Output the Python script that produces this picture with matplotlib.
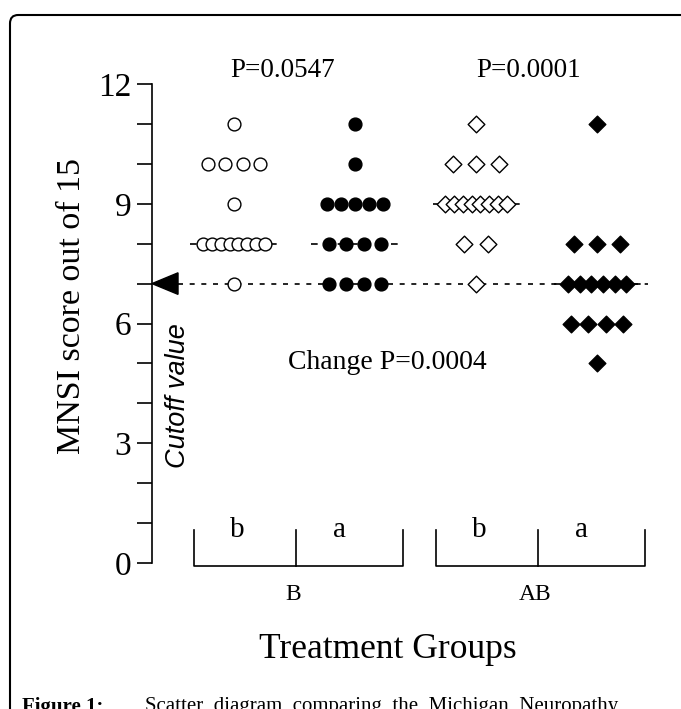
import numpy as np
import matplotlib
matplotlib.use("Agg")
import matplotlib.pyplot as plt
from matplotlib.patches import FancyBboxPatch

plt.rcParams['font.family'] = ['Liberation Serif', 'DejaVu Serif']

# MNSI scores (out of 15) per group, before (b) and after (a) treatment
groups = ["B", "AB"]
phases = ["b", "a"]
b_before = [11, 10, 10, 10, 10, 9, 8, 8, 8, 8, 8, 8, 8, 8, 7]
b_after = [11, 10, 9, 9, 9, 9, 9, 8, 8, 8, 8, 7, 7, 7, 7]
ab_before = [11, 10, 10, 10, 9, 9, 9, 9, 9, 9, 9, 9, 8, 8, 7]
ab_after = [11, 8, 8, 8, 7, 7, 7, 7, 7, 7, 6, 6, 6, 6, 5]
p_values = ["P=0.0547", "P=0.0001"]
change_text = "Change P=0.0004"
cutoff = 7
yticks = [0, 3, 6, 9, 12]

series = [b_before, b_after, ab_before, ab_after]
markers = ["o", "o", "D", "D"]
fills = ["white", "black", "white", "black"]
sizes = [85, 85, 72, 72]
positions = [1, 2, 3, 4]

fig = plt.figure(figsize=(6.81, 7.09), dpi=100)
ax = fig.add_axes([152 / 681, (709 - 563) / 709, (660 - 152) / 681, (563 - 84) / 709])

for pos, vals, m, fc, s in zip(positions, series, markers, fills, sizes):
    vals = np.array(vals)
    xs, ys = [], []
    for v in np.unique(vals):
        n = np.sum(vals == v)
        step = min(0.2, 0.58 / n)
        offs = (np.arange(n) - (n - 1) / 2) * step
        xs.extend(pos + offs)
        ys.extend([v] * n)
    med = np.median(vals)
    ax.plot([pos - 0.36, pos + 0.36], [med, med], color="black", lw=1.2,
            ls=(0, (4, 4)), zorder=2)
    ax.scatter(xs, ys, marker=m, s=s, facecolor=fc,
               edgecolor="black", linewidth=1.0, zorder=3)

# cutoff line and arrow
ax.plot([0.54, 4.42], [cutoff, cutoff], color="black", lw=1.2,
        ls=(0, (3, 4)), zorder=1)
ax.fill([0.322, 0.537, 0.537], [cutoff, cutoff + 0.27, cutoff - 0.27],
        color="black", clip_on=False, zorder=4)
ax.text(0.537, 4.2, "Cutoff value", rotation=90, ha="center", va="center",
        family="Liberation Sans", style="italic", fontsize=19.5)

# p-values
ax.text(1.4, 12.35, p_values[0], ha="center", va="center", fontsize=19.5)
ax.text(3.43, 12.35, p_values[1], ha="center", va="center", fontsize=19.5)
ax.text(2.27, 5.02, change_text, ha="center", va="center", fontsize=20)

# group brackets
for gi, g in enumerate(groups):
    pb, pa = positions[2 * gi], positions[2 * gi + 1]
    left, right = pb - 0.33, pa + 0.40
    mid = (pb + pa) / 2 + 0.01
    ybot, ytop = -0.07, 0.83
    ax.plot([left, left, right, right], [ytop, ybot, ybot, ytop],
            color="black", lw=1.2, clip_on=False)
    ax.plot([mid, mid], [ybot, ytop], color="black", lw=1.2, clip_on=False)
    ax.text((left + mid) / 2 - 0.06, 0.82, phases[0], ha="center", va="center", fontsize=21)
    ax.text((mid + right) / 2 - 0.08, 0.82, phases[1], ha="center", va="center", fontsize=21)
    ax.text(mid - 0.02, -0.78, g, ha="center", va="center", fontsize=17)

ax.set_xlim(0.322, 4.52)
ax.set_ylim(0, 12)
ax.set_yticks(yticks)
ax.set_yticks(range(0, 13), minor=True)
ax.tick_params(axis="y", which="both", direction="out", length=11, width=1.2,
               labelsize=24, pad=4)
ax.set_xticks([])
for sp in ["top", "right", "bottom"]:
    ax.spines[sp].set_visible(False)
ax.spines["left"].set_linewidth(1.2)
ax.spines["left"].set_bounds(0, 12)
fig.text(72 / 681, 1 - 306 / 709, "MNSI score out of 15", rotation=90,
         ha="center", va="center", fontsize=24.5)

fig.text(388 / 681, 1 - 650 / 709, "Treatment Groups", ha="center", va="center",
         fontsize=25.5)

# outer frame
frame = FancyBboxPatch((10 / 681, -0.1), 1.2, (709 - 15) / 709 + 0.1,
                       boxstyle="round,pad=0,rounding_size=0.012",
                       transform=fig.transFigure, fill=False, lw=1.5,
                       edgecolor="black")
fig.patches.append(frame)

# cut-off caption
fig.text(22 / 681, 1 - 697 / 709, "Figure 1:", ha="left", va="top",
         fontsize=15, weight="bold")
fig.text(145 / 681, 1 - 697 / 709,
         "Scatter  diagram  comparing  the  Michigan  Neuropathy",
         ha="left", va="top", fontsize=15)

fig.savefig("out.png", dpi=100)
